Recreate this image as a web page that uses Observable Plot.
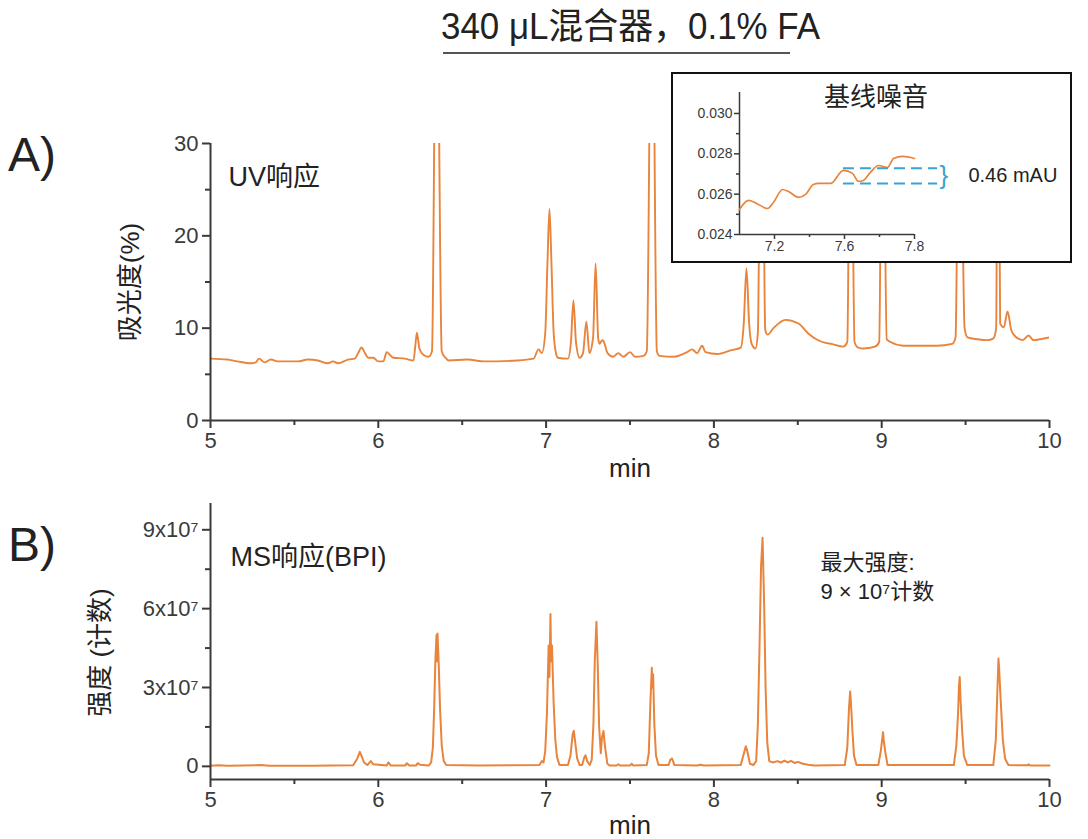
<!DOCTYPE html>
<html><head><meta charset="utf-8">
<script src="https://cdn.jsdelivr.net/npm/d3@7"></script>
<script src="https://cdn.jsdelivr.net/npm/@observablehq/plot@0.6"></script>
<style>
body{margin:0;background:#fff;}
#root{position:relative;width:1088px;height:839px;overflow:hidden;font-family:"Liberation Sans",Arial,"Noto Sans CJK SC",sans-serif;color:#222;}
.abs{position:absolute;white-space:nowrap;line-height:1;}
</style></head><body><div id="root"></div>
<script>
// ---------- data ----------
const titleText = "340 μL混合器，0.1% FA";
const xMajor = [5, 6, 7, 8, 9, 10];
const xMinor = [5.5, 6.5, 7.5, 8.5, 9.5];

// Panel A: UV chromatogram (min, absorbance %)
const uvTime = [5.00,5.10,5.16,5.24,5.27,5.29,5.32,5.36,5.40,5.52,5.58,5.64,5.70,5.73,5.76,5.82,5.86,5.88,5.90,5.92,5.94,5.97,6.00,6.03,6.05,6.07,6.09,6.16,6.18,6.21,6.22,6.23,6.245,6.27,6.30,6.32,6.347,6.378,6.40,6.42,6.53,6.63,6.83,6.925,6.955,6.975,6.995,7.008,7.02,7.032,7.045,7.06,7.07,7.13,7.148,7.163,7.178,7.20,7.22,7.24,7.258,7.28,7.295,7.31,7.318,7.335,7.342,7.366,7.40,7.43,7.46,7.50,7.53,7.58,7.60,7.631,7.66,7.676,7.76,7.84,7.87,7.90,7.93,7.95,8.02,8.10,8.16,8.178,8.194,8.21,8.225,8.248,8.262,8.284,8.306,8.32,8.355,8.427,8.504,8.564,8.61,8.665,8.70,8.77,8.795,8.815,8.838,8.86,8.89,8.96,8.985,9.005,9.03,9.053,9.13,9.23,9.33,9.42,9.44,9.464,9.494,9.511,9.57,9.63,9.666,9.682,9.693,9.706,9.728,9.75,9.772,9.797,9.839,9.875,9.905,9.946,10.00];
const uvAbs  = [6.7,6.6,6.4,6.2,6.3,6.7,6.3,6.6,6.4,6.4,6.6,6.5,6.2,6.4,6.2,6.6,6.7,7.3,7.9,7.3,6.8,6.8,6.4,6.4,7.4,7.1,6.8,6.7,6.6,6.5,8.0,9.5,7.8,7.1,6.9,7.5,55,7.5,6.8,6.5,6.6,6.4,6.5,6.7,7.7,7.3,9.5,17,22.9,17,9.5,7.2,6.8,6.7,8.5,13.0,8.5,6.8,7.3,10.7,7.3,9.0,17.0,9.0,8.3,8.7,8.6,7.3,6.9,7.3,6.9,7.4,6.9,7.0,7.5,55,7.5,7.0,6.9,7.4,7.7,7.3,8.1,7.4,7.2,7.6,7.9,10.5,16.5,10.5,8.3,7.8,9.5,50,9.8,9.3,10.0,10.9,10.5,9.4,8.8,8.4,8.3,8.0,8.5,45,8.5,7.9,7.8,8.0,8.5,45,8.8,8.5,8.1,8.1,8.1,8.3,9.0,45,10.0,9.0,8.8,8.7,8.9,10.0,45,10.5,10.1,11.8,9.8,9.1,8.7,9.2,8.7,8.8,9.0];
const uvTicks = [0, 10, 20, 30];
const uvMinor = [5, 15, 25];

// Panel B: MS BPI chromatogram (min, intensity in 10^7 counts)
const msTime = [5.00,5.05,5.10,5.20,5.30,5.35,5.60,5.85,5.875,5.89,5.90,5.915,5.935,5.955,5.97,6.05,6.06,6.075,6.16,6.17,6.185,6.225,6.235,6.25,6.30,6.315,6.325,6.333,6.34,6.347,6.35,6.353,6.36,6.368,6.378,6.39,6.405,6.60,6.96,6.975,6.985,6.995,7.005,7.015,7.02,7.026,7.03,7.035,7.045,7.055,7.065,7.08,7.13,7.145,7.158,7.165,7.172,7.185,7.20,7.215,7.228,7.235,7.245,7.26,7.272,7.282,7.29,7.30,7.308,7.316,7.326,7.333,7.342,7.35,7.365,7.38,7.42,7.43,7.44,7.50,7.51,7.52,7.60,7.612,7.622,7.63,7.634,7.638,7.645,7.655,7.67,7.73,7.74,7.75,7.765,7.90,7.92,7.94,8.16,8.175,8.19,8.198,8.215,8.235,8.252,8.262,8.272,8.281,8.29,8.293,8.30,8.308,8.318,8.33,8.35,8.38,8.40,8.42,8.44,8.46,8.48,8.50,8.53,8.56,8.60,8.78,8.795,8.805,8.812,8.817,8.825,8.835,8.85,8.98,8.995,9.008,9.012,9.02,9.035,9.43,9.445,9.455,9.46,9.465,9.47,9.48,9.49,9.51,9.665,9.68,9.69,9.696,9.70,9.71,9.722,9.735,9.755,9.87,9.875,9.885,10.00];
const msIntensity = [0.02,0.04,0.02,0.03,0.05,0.02,0.02,0.04,0.3,0.55,0.4,0.15,0.05,0.2,0.08,0.03,0.15,0.03,0.03,0.12,0.03,0.03,0.12,0.06,0.03,0.15,0.7,2.2,4.0,5.0,4.0,5.05,3.9,2.2,0.8,0.2,0.05,0.03,0.05,0.2,0.15,0.6,2.0,4.6,3.4,5.8,4.0,4.6,2.4,1.0,0.35,0.05,0.05,0.4,1.2,1.35,1.0,0.3,0.05,0.05,0.35,0.42,0.2,0.05,0.25,1.6,4.0,5.5,3.8,1.5,0.5,1.1,1.35,0.8,0.1,0.03,0.03,0.08,0.03,0.03,0.1,0.03,0.05,0.5,2.5,3.75,3.0,3.5,1.6,0.4,0.05,0.05,0.25,0.3,0.05,0.03,0.06,0.03,0.05,0.4,0.76,0.6,0.1,0.05,0.2,1.6,4.6,7.6,8.7,7.9,6.0,3.0,0.9,0.2,0.15,0.2,0.14,0.22,0.15,0.21,0.13,0.17,0.1,0.06,0.03,0.05,0.7,2.2,2.85,2.4,1.4,0.4,0.05,0.05,0.6,1.3,1.0,0.6,0.05,0.05,0.8,2.0,3.0,3.4,2.5,1.3,0.4,0.05,0.05,1.0,3.0,4.1,3.7,2.4,1.0,0.3,0.05,0.04,0.08,0.03,0.03];
const msTicks = [0, 3e7, 6e7, 9e7];
const msTickLabels = ["0", "3x10⁷", "6x10⁷", "9x10⁷"];
const msMinor = [1.5e7, 4.5e7, 7.5e7];

// Inset: baseline noise
const noiseTime = [7.0,7.026,7.054,7.08,7.097,7.123,7.14,7.169,7.189,7.211,7.226,7.26,7.297,7.323,7.34,7.354,7.374,7.397,7.423,7.44,7.466,7.50];
const noiseAbs  = [0.02524,0.02569,0.02549,0.02529,0.02559,0.02623,0.02613,0.02584,0.02599,0.02648,0.02653,0.02653,0.02718,0.02703,0.02663,0.02668,0.02708,0.02742,0.02732,0.02777,0.02787,0.02777];
const insetXTicks = [7.1, 7.3, 7.5];
const insetXLabels = ["7.2", "7.6", "7.8"];
const insetXMinor = [7.2, 7.4];
const insetYTicks = [0.024, 0.026, 0.028, 0.030];
const insetYMinor = [0.025, 0.027, 0.029];
const noiseBand = [0.02653, 0.02728];
const noiseBandX = [7.297, 7.566];
const noiseLabel = "0.46 mAU";

// ---------- styling ----------
const FONT = '"Liberation Sans", Arial, "Noto Sans CJK SC", sans-serif';
const ORANGE = "#E9843C";
const BLUE = "#3AA3D2";
const AXIS = "#3a3a3a";
const root = document.getElementById("root");

function place(el, left, top, z) {
  el.style.position = "absolute";
  el.style.left = left + "px";
  el.style.top = top + "px";
  if (z) el.style.zIndex = z;
  root.appendChild(el);
  return el;
}
function label(text, left, top, size, extra) {
  const d = document.createElement("div");
  d.className = "abs";
  d.textContent = text;
  d.style.fontSize = size + "px";
  if (extra) Object.assign(d.style, extra);
  return place(d, left, top, 5);
}

const uvData = uvTime.map((t, i) => ({t, v: uvAbs[i]}));
const msData = msTime.map((t, i) => ({t, v: msIntensity[i] * 1e7}));
const noiseData = noiseTime.map((t, i) => ({t, v: noiseAbs[i]}));

const baseStyle = {fontFamily: FONT, fontSize: "22px", color: AXIS, background: "none", overflow: "visible"};

const plotA = Plot.plot({
  width: 1088, height: 350,
  marginTop: 13, marginRight: 39, marginBottom: 60, marginLeft: 210,
  style: baseStyle,
  x: {domain: [5, 10]},
  y: {domain: [0, 30]},
  marks: [
    Plot.line(uvData, {x: "t", y: "v", stroke: ORANGE, strokeWidth: 1.9, curve: "monotone-x", clip: true}),
    Plot.ruleX([5], {stroke: AXIS, strokeWidth: 2}),
    Plot.ruleY([0], {stroke: AXIS, strokeWidth: 2}),
    Plot.axisX({ticks: xMajor, tickSize: 8, tickPadding: 4, strokeWidth: 2, label: null, tickFormat: d => String(d)}),
    Plot.axisX({ticks: xMinor, tickSize: 5, strokeWidth: 2, label: null, tickFormat: () => ""}),
    Plot.axisY({ticks: uvTicks, tickSize: 8, tickPadding: 4, strokeWidth: 2, label: null, tickFormat: d => String(d)}),
    Plot.axisY({ticks: uvMinor, tickSize: 5, strokeWidth: 2, label: null, tickFormat: () => ""}),
    Plot.text(["吸光度(%)"], {frameAnchor: "left", dx: -80, rotate: -90, textAnchor: "middle", lineAnchor: "middle", fontSize: 26, fill: "#222"}),
    Plot.text(["min"], {frameAnchor: "bottom", dy: 48, textAnchor: "middle", lineAnchor: "middle", fontSize: 26, fill: "#222"}),
    Plot.text(["UV响应"], {frameAnchor: "top-left", dx: 18, dy: 34, textAnchor: "start", lineAnchor: "middle", fontSize: 27, fill: "#222"})
  ]
});
place(plotA, 0, 130, 1);

const plotB = Plot.plot({
  width: 1088, height: 349,
  marginTop: 13, marginRight: 39, marginBottom: 60, marginLeft: 210,
  style: baseStyle,
  x: {domain: [5, 10]},
  y: {domain: [-0.5e7, 10e7]},
  marks: [
    Plot.line(msData, {x: "t", y: "v", stroke: ORANGE, strokeWidth: 2}),
    Plot.ruleX([5], {stroke: AXIS, strokeWidth: 2}),
    Plot.ruleY([-0.5e7], {stroke: AXIS, strokeWidth: 2}),
    Plot.axisX({ticks: xMajor, tickSize: 8, tickPadding: 4, strokeWidth: 2, label: null, tickFormat: d => String(d)}),
    Plot.axisX({ticks: xMinor, tickSize: 5, strokeWidth: 2, label: null, tickFormat: () => ""}),
    Plot.axisY({ticks: msTicks, tickSize: 8, tickPadding: 4, strokeWidth: 2, label: null, tickFormat: d => msTickLabels[msTicks.indexOf(d)]}),
    Plot.axisY({ticks: msMinor, tickSize: 5, strokeWidth: 2, label: null, tickFormat: () => ""}),
    Plot.text(["强度 (计数)"], {frameAnchor: "left", dx: -110, dy: 11, rotate: -90, textAnchor: "middle", lineAnchor: "middle", fontSize: 26, fill: "#222"}),
    Plot.text(["min"], {frameAnchor: "bottom", dy: 46, textAnchor: "middle", lineAnchor: "middle", fontSize: 26, fill: "#222"}),
    Plot.text(["MS响应(BPI)"], {frameAnchor: "top-left", dx: 20, dy: 54, textAnchor: "start", lineAnchor: "middle", fontSize: 27, fill: "#222"}),
    Plot.text(["最大强度:"], {x: 8.635, y: 7.74e7, textAnchor: "start", lineAnchor: "middle", fontSize: 22, fill: "#222"}),
    Plot.text(["9 × 10⁷计数"], {x: 8.635, y: 6.64e7, textAnchor: "start", lineAnchor: "middle", fontSize: 22, fill: "#222"})
  ]
});
place(plotB, 0, 490, 1);

// inset frame
const frame = document.createElement("div");
Object.assign(frame.style, {width: "401px", height: "191px", boxSizing: "border-box", border: "2px solid #111", background: "#fff"});
place(frame, 671, 72, 2);

const inset = Plot.plot({
  width: 399, height: 189,
  marginTop: 19, marginRight: 157, marginBottom: 28, marginLeft: 67,
  style: {fontFamily: FONT, fontSize: "14px", color: AXIS, background: "none", overflow: "visible"},
  x: {domain: [7.0, 7.5]},
  y: {domain: [0.024, 0.03104]},
  marks: [
    Plot.ruleX([7.0], {stroke: AXIS, strokeWidth: 1.5}),
    Plot.ruleY([0.024], {stroke: AXIS, strokeWidth: 1.5}),
    Plot.axisX({ticks: insetXTicks, tickSize: 5, tickPadding: 2, strokeWidth: 1.5, label: null, tickFormat: d => insetXLabels[insetXTicks.indexOf(d)]}),
    Plot.axisX({ticks: insetXMinor, tickSize: 3, strokeWidth: 1.5, label: null, tickFormat: () => ""}),
    Plot.axisY({ticks: insetYTicks, tickSize: 5, tickPadding: 2, strokeWidth: 1.5, label: null, tickFormat: d3.format(".3f")}),
    Plot.axisY({ticks: insetYMinor, tickSize: 3, strokeWidth: 1.5, label: null, tickFormat: () => ""}),
    Plot.line(noiseData, {x: "t", y: "v", stroke: ORANGE, strokeWidth: 1.7, curve: "monotone-x"}),
    Plot.ruleY(noiseBand, {x1: noiseBandX[0], x2: noiseBandX[1], stroke: BLUE, strokeWidth: 2, strokeDasharray: "11,6"}),
    Plot.text(["}"], {x: noiseBandX[1] + 0.018, y: (noiseBand[0] + noiseBand[1]) / 2, fill: BLUE, fontSize: 26, lineAnchor: "middle"}),
    Plot.text([noiseLabel], {x: noiseBandX[1] + 0.088, y: (noiseBand[0] + noiseBand[1]) / 2, textAnchor: "start", lineAnchor: "middle", fontSize: 20, fill: "#222"}),
    Plot.text(["基线噪音"], {x: 7.39, frameAnchor: "top", dy: 5, lineAnchor: "middle", fontSize: 26, fill: "#222"})
  ]
});
place(inset, 672, 73, 3);

// title + underline
const title = label(titleText, 0, 9, 36, {fontFamily: '"Liberation Sans Narrow","Liberation Sans",Arial,"Noto Sans CJK SC",sans-serif', color: "#222"});
const tw = title.getBoundingClientRect().width;
const sx = 379 / tw;
title.style.transformOrigin = "0 0";
title.style.left = "441px";
title.style.transform = `scaleX(${sx})`;
const ul = document.createElement("div");
Object.assign(ul.style, {width: "347px", height: "2px", background: "#555"});
place(ul, 443, 52, 5);

label("A)", 8, 131, 48, {color: "#222"});
label("B)", 8, 521, 48, {color: "#222"});
</script>
</body></html>
